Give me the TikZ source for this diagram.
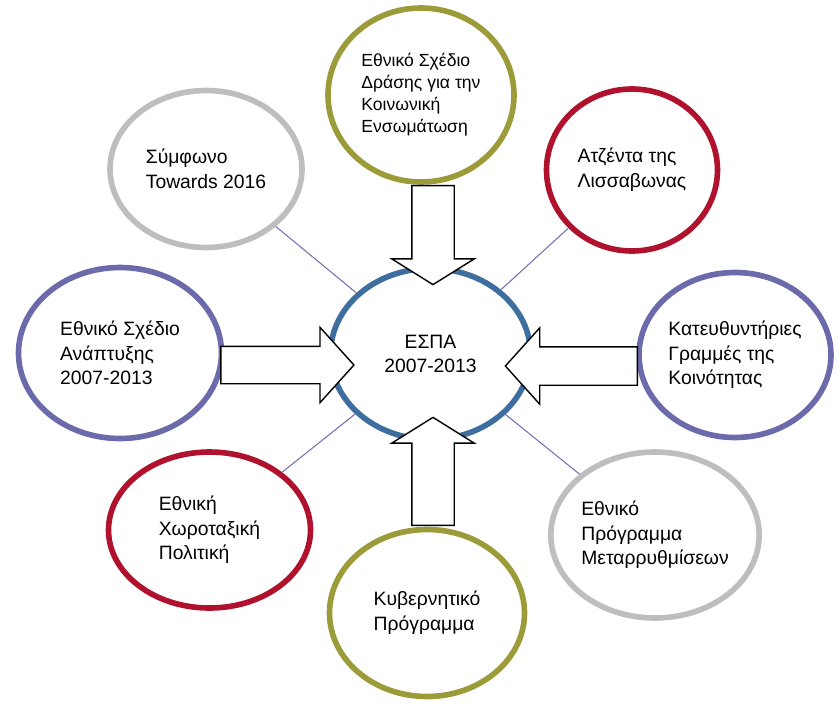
\documentclass[tikz,border=0pt]{standalone}
\usepackage{fontspec}
\setmainfont{Liberation Sans}
\usetikzlibrary{shapes.geometric,shapes.arrows}

\definecolor{olivering}{HTML}{9B9B3A}
\definecolor{redring}{HTML}{B0122E}
\definecolor{purplering}{HTML}{6B6BAC}
\definecolor{grayring}{HTML}{BEBEBE}
\definecolor{bluering}{HTML}{3D6E9E}
\definecolor{linkcol}{HTML}{7272B2}

\tikzset{
	plan/.style={ellipse,draw=#1,line width=3.2pt,fill=white,inner sep=0pt,align=left,
		font=\fontsize{11}{14}\selectfont},
	blockarrow/.style={single arrow,draw=black,fill=white,line width=0.8pt,
		minimum width=0pt,inner xsep=0pt,single arrow head extend=#1},
	link/.style={draw=linkcol,line width=0.6pt}
}

\begin{document}
\begin{tikzpicture}
	\useasboundingbox (0,0) rectangle (16.74,-14.08);

	\node[plan=bluering,minimum width=4.0cm,minimum height=3.42cm,align=center] (espa) at (8.61,-7.08) {ΕΣΠΑ\\2007-2013};
	\node[plan=olivering,minimum width=3.72cm,minimum height=3.48cm,font=\fontsize{10}{12.5}\selectfont] (social) at (8.42,-1.90) {Εθνικό Σχέδιο\\Δράσης για την\\Κοινωνική\\Ενσωμάτωση};
	\node[plan=grayring,minimum width=3.84cm,minimum height=3.14cm] (towards) at (4.12,-3.38) {Σύμφωνο\\Towards 2016};
	\node[plan=redring,minimum width=3.42cm,minimum height=3.24cm] (lisbon) at (12.64,-3.40) {Ατζέντα της\\Λισσαβωνας};
	\node[plan=purplering,minimum width=4.06cm,minimum height=3.42cm] (develop) at (2.40,-7.06) {Εθνικό Σχέδιο\\Ανάπτυξης\\2007-2013};
	\node[plan=purplering,minimum width=3.84cm,minimum height=3.3cm] (guide) at (14.70,-7.10) {Κατευθυντήριες\\Γραμμές της\\Κοινότητας};
	\node[plan=redring,minimum width=4.04cm,minimum height=3.12cm] (spatial) at (4.19,-10.60) {Εθνική\\Χωροταξική\\Πολιτική};
	\node[plan=grayring,minimum width=4.12cm,minimum height=3.32cm] (reform) at (13.10,-10.70) {Εθνικό\\Πρόγραμμα\\Μεταρρυθμίσεων};
	\node[plan=olivering,minimum width=3.9cm,minimum height=3.34cm] (govern) at (8.54,-12.26) {Κυβερνητικό\\Πρόγραμμα};

	\draw[link] (espa) -- (towards);
	\draw[link] (espa) -- (lisbon);
	\draw[link] (espa) -- (spatial);
	\draw[link] (espa) -- (reform);

	\node[blockarrow=0.4cm,inner ysep=0.41cm,minimum height=1.98cm,single arrow tip angle=116,rotate=-90] (adown) at (8.66,-4.57) {};
	\node[blockarrow=0.4cm,inner ysep=0.41cm,minimum height=2.16cm,single arrow tip angle=116,rotate=90] (aup) at (8.66,-9.56) {};
	\node[blockarrow=0.38cm,inner ysep=0.36cm,minimum height=2.66cm,single arrow tip angle=96] (aright) at (5.58,-7.30) {};
	\node[blockarrow=0.38cm,inner ysep=0.37cm,minimum height=2.64cm,single arrow tip angle=96,rotate=180] (aleft) at (11.60,-7.32) {};

\end{tikzpicture}
\end{document}
